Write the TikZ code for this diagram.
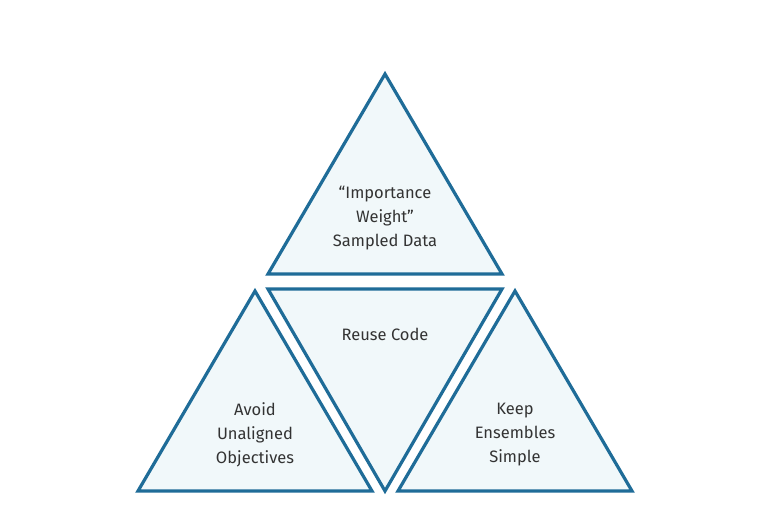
\documentclass[tikz,border=0pt]{standalone}
\usepackage{fontspec}
\setmainfont{Fira Sans}
\definecolor{edge}{HTML}{1F6C98}
\definecolor{fillc}{HTML}{F1F8FA}
\definecolor{txt}{HTML}{333333}
\begin{document}
\begin{tikzpicture}[x=1pt,y=-1pt,
  tri/.style={draw=edge,fill=fillc,line width=3.2pt,line join=miter},
  lbl/.style={text=txt,font=\fontsize{16.5}{24}\selectfont,align=center,inner sep=0pt}]
\useasboundingbox (0,0) rectangle (770,530);
\coordinate (tA) at (385,74); \coordinate (tL) at (268,274); \coordinate (tR) at (502,274);
\coordinate (mL) at (268,289); \coordinate (mR) at (502,289); \coordinate (mB) at (385,491);
\coordinate (lA) at (255,291); \coordinate (lL) at (138,491); \coordinate (lR) at (372,491);
\coordinate (rA) at (515,291); \coordinate (rL) at (398,491); \coordinate (rR) at (632,491);
\draw[tri] (tA) -- (tL) -- (tR) -- cycle;
\draw[tri] (mL) -- (mR) -- (mB) -- cycle;
\draw[tri] (lA) -- (lL) -- (lR) -- cycle;
\draw[tri] (rA) -- (rL) -- (rR) -- cycle;
\node[lbl] (top) at (385,218) {“Importance\\Weight”\\Sampled Data};
\node[lbl] (mid) at (385,334) {Reuse Code};
\node[lbl] (left) at (255,435) {Avoid\\Unaligned\\Objectives};
\node[lbl] (right) at (515,435) {Keep\\Ensembles\\Simple};
\end{tikzpicture}
\end{document}
